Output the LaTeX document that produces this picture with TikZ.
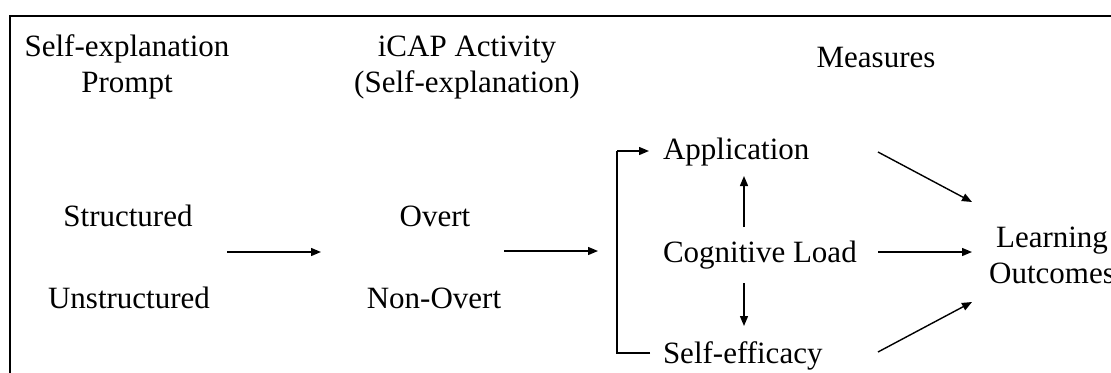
\documentclass[tikz,border=0pt]{standalone}
\usepackage{fontspec}
\setmainfont{Liberation Serif}
\usetikzlibrary{arrows.meta}
\begin{document}
\begin{tikzpicture}[x=1bp,y=-1bp,
  lbl/.style={inner sep=0pt, outer sep=0pt, font=\fontsize{31bp}{36bp}\selectfont, align=center, anchor=base},
  lbll/.style={lbl, anchor=base west},
  arr/.style={line width=1.4bp, -{Triangle[length=10bp,width=8bp]}},
  ln/.style={line width=1.4bp},
  frame/.style={line width=2bp}]
\useasboundingbox (0,0) rectangle (1111,372);
\draw[frame] (10,385) -- (10,16) -- (1125,16);
% headers
\node[lbl] (h1) at (127,92) {Self-explanation\\Prompt};
\node[lbl] (h2) at (467,92) {iCAP Activity\\(Self-explanation)};
\node[lbl] (h3) at (876,67) {Measures};
% column 1
\node[lbl] (str) at (128,226) {Structured};
\node[lbl] (unstr) at (129,308) {Unstructured};
% column 2
\node[lbl] (ov) at (435,226) {Overt};
\node[lbl] (nov) at (434,308) {Non-Overt};
% measures
\node[lbll] (app) at (663,159) {Application};
\node[lbll] (cog) at (663,262) {Cognitive Load};
\node[lbll] (se) at (663,363) {Self-efficacy};
% outcome
\node[lbl] (lo) at (1052,283) {Learning\\Outcomes};
% connector end points
\coordinate (a1s) at (227,252);
\coordinate (a1e) at (321,252);
\coordinate (a2s) at (504,251);
\coordinate (a2e) at (598,251);
\coordinate (brt) at (617,151);
\coordinate (brb) at (617,353);
\coordinate (appin) at (649,151);
\coordinate (sein) at (650,353);
\coordinate (cogup) at (744,227);
\coordinate (appdn) at (744,176);
\coordinate (cogdn) at (744,283);
\coordinate (setop) at (744,326);
\coordinate (appout) at (878,152);
\coordinate (cogout) at (878,252);
\coordinate (seout) at (878,352);
\coordinate (lo1) at (972,202);
\coordinate (lo2) at (972,252);
\coordinate (lo3) at (972,302);
% connectors
\draw[arr] (a1s) -- (a1e);
\draw[arr] (a2s) -- (a2e);
\draw[ln] (sein) -- (brb) -- (brt);
\draw[arr] (brt) -- (appin);
\draw[arr] (cogup) -- (appdn);
\draw[arr] (cogdn) -- (setop);
\draw[arr] (appout) -- (lo1);
\draw[arr] (cogout) -- (lo2);
\draw[arr] (seout) -- (lo3);
\end{tikzpicture}
\end{document}
